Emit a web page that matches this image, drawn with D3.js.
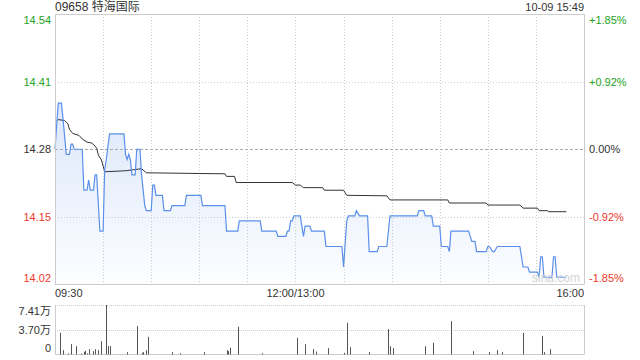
<!DOCTYPE html>
<meta charset="utf-8">
<head>
  <title>09658 特海国际</title>
  <script src="https://d3js.org/d3.v7.min.js"></script>
  <style>
    body { margin: 0; background: #fff; }
    svg { font-family: "Liberation Sans", Arial, sans-serif; }
  </style>
</head>
<body>
  <svg id="chart" width="640" height="360"></svg>
  <script>
    // ---- data ----
    var stockName = "09658 特海国际";
    var stampText = "10-09 15:49";
    var prevClose = 14.28;
    var pctRange = 0.0185;

    var priceTickLabels = ["14.54", "14.41", "14.28", "14.15", "14.02"];
    var pctTickLabels = ["+1.85%", "+0.92%", "0.00%", "-0.92%", "-1.85%"];
    var timeLabels = ["09:30", "12:00/13:00", "16:00"];
    var volTickLabels = ["7.41万", "3.70万", "0"];
    var volMax = 7.41; // 万

    var priceTimes = [
      "09:30","09:32","09:34","09:35","09:37","09:39","09:40","09:41","09:42","09:47",
      "09:48","09:50","09:51","09:52","09:54","09:55","09:56","09:58","10:00","10:01",
      "10:02","10:04","10:13","10:14","10:15","10:16","10:17","10:18","10:20","10:21",
      "10:23","10:24","10:26","10:27","10:30","10:31","10:32","10:33","10:37","10:38",
      "10:42","10:43","10:51","10:52","11:01","11:02","11:16","11:17","11:24","11:25",
      "11:38","11:39","11:48","11:49","11:54","11:55","11:56","11:57","11:58","11:59",
      "12:00","13:03","13:05","13:06","13:09","13:10","13:18","13:19","13:29","13:30",
      "13:32","13:33","13:37","13:38","13:40","13:45","13:46","13:51","13:52","13:57",
      "13:59","14:16","14:17","14:20","14:21","14:25","14:26","14:30","14:31","14:35",
      "14:36","14:37","14:48","14:50","14:52","14:53","14:59","15:00","15:01","15:03",
      "15:04","15:06","15:20","15:22","15:25","15:26","15:31","15:32","15:33","15:34",
      "15:35","15:40","15:41","15:42","15:43","15:49"
    ];
    var priceValues = [
      14.28,14.37,14.37,14.34,14.27,14.27,14.29,14.29,14.28,14.28,
      14.20,14.20,14.22,14.20,14.20,14.23,14.23,14.12,14.12,14.24,
      14.26,14.31,14.31,14.27,14.26,14.27,14.26,14.23,14.23,14.28,
      14.28,14.23,14.17,14.16,14.16,14.21,14.21,14.19,14.19,14.16,
      14.16,14.17,14.17,14.19,14.19,14.17,14.17,14.12,14.12,14.14,
      14.14,14.12,14.12,14.11,14.11,14.12,14.12,14.14,14.14,14.15,
      14.15,14.15,14.11,14.13,14.13,14.12,14.12,14.09,14.09,14.05,
      14.14,14.15,14.15,14.16,14.15,14.15,14.08,14.08,14.09,14.09,
      14.15,14.15,14.16,14.16,14.15,14.15,14.13,14.13,14.09,14.09,
      14.08,14.12,14.12,14.10,14.10,14.08,14.08,14.09,14.09,14.08,
      14.08,14.09,14.09,14.05,14.05,14.04,14.04,14.03,14.07,14.07,
      14.03,14.03,14.07,14.07,14.03,14.03
    ];

    var avgTimes = [
      "09:31","09:32","09:36","09:38","09:39","09:41","09:45","09:47","09:50","09:53",
      "09:55","09:56","09:57","09:59","10:01","10:14","10:24","10:27","11:16","11:17",
      "11:22","11:23","11:58","12:00","13:03","13:05","13:17","13:18","13:30","13:32",
      "13:57","13:59","14:35","14:36","14:59","15:00","15:20","15:22","15:31","15:32",
      "15:37","15:38","15:49"
    ];
    var avgValues = [
      14.335,14.338,14.336,14.330,14.319,14.311,14.307,14.300,14.294,14.292,
      14.286,14.282,14.269,14.259,14.236,14.238,14.242,14.234,14.232,14.227,
      14.227,14.215,14.215,14.210,14.210,14.205,14.205,14.200,14.200,14.190,
      14.189,14.181,14.181,14.175,14.175,14.171,14.171,14.165,14.165,14.160,
      14.160,14.158,14.158
    ];

    var volTimes = [
      "09:33","09:35","09:38","09:40","09:43","09:46","09:48","09:49","09:50","09:51",
      "09:54","09:55","09:57","09:59","10:02","10:03","10:04","10:15","10:21","10:24",
      "10:25","10:27","10:28","10:43","10:48","11:03","11:17","11:18","11:19","11:24",
      "11:39","13:01","13:06","13:11","13:13","13:20","13:30","13:32","13:34","13:46",
      "13:58","13:59","14:01","14:21","14:26","14:37","14:51","15:01","15:06","15:09",
      "15:22","15:34","15:35","15:39"
    ];
    var volValues = [
      3.25,0.65,0.15,1.55,1.25,0.15,0.4,0.55,0.15,0.8,
      0.5,0.8,0.65,2.0,7.41,1.25,1.25,0.35,4.25,0.25,
      0.35,0.65,2.65,0.35,0.2,0.35,0.65,0.5,1.0,4.15,
      0.2,2.5,1.55,0.8,0.45,0.95,0.25,4.75,1.1,0.35,
      3.8,1.25,0.95,1.25,1.75,5.0,0.5,0.35,0.65,0.35,
      3.25,2.8,0.35,0.8
    ];

    // ---- layout ----
    var svg = d3.select("#chart");
    var plotL = 55, plotR = 584, plotT = 14, plotB = 284.5;
    var volT = 305, volB = 354.5;
    var green = "#22a322", red = "#f0392b", dark = "#333";

    // trading minutes since 09:30, lunch break removed
    function tradeMinute(t) {
      var p = t.split(":"), h = +p[0], m = +p[1];
      var mins = h * 60 + m;
      return h >= 13 ? mins - 780 + 150 : mins - 570;
    }

    var x = d3.scaleLinear().domain([0, 330]).range([plotL, plotR]);
    var y = d3.scaleLinear()
      .domain([prevClose * (1 - pctRange), prevClose * (1 + pctRange)])
      .range([plotB, plotT]);
    var yVol = d3.scaleLinear().domain([0, volMax]).range([volB, volT]);

    var priceData = priceTimes.map(function(t, i) { return { m: tradeMinute(t), v: priceValues[i] }; });
    var avgData = avgTimes.map(function(t, i) { return { m: tradeMinute(t), v: avgValues[i] }; });
    var volData = volTimes.map(function(t, i) { return { m: tradeMinute(t), v: volValues[i] }; });

    // gradient for area
    var defs = svg.append("defs");
    var grad = defs.append("linearGradient")
      .attr("id", "areaFill")
      .attr("gradientUnits", "userSpaceOnUse")
      .attr("x1", 0).attr("x2", 0)
      .attr("y1", 100).attr("y2", plotB);
    grad.append("stop").attr("offset", "0%").attr("stop-color", "#dbe7fb");
    grad.append("stop").attr("offset", "100%").attr("stop-color", "#fcfdff");

    // area under price
    svg.append("path")
      .datum(priceData)
      .attr("fill", "url(#areaFill)")
      .attr("d", d3.area()
        .x(function(d) { return x(d.m); })
        .y0(plotB)
        .y1(function(d) { return y(d.v); }));

    // vertical grid (11 columns)
    var colTicks = d3.range(1, 11).map(function(i) { return i * 30; });
    svg.append("g").selectAll("line")
      .data(colTicks)
      .enter().append("line")
        .attr("x1", function(d) { return Math.round(x(d)) + 0.5; })
        .attr("x2", function(d) { return Math.round(x(d)) + 0.5; })
        .attr("y1", plotT).attr("y2", plotB)
        .attr("stroke", "#ccc")
        .attr("stroke-dasharray", "1,2");

    // horizontal grid
    var priceGrid = d3.range(5).map(function(i) {
      return y.domain()[1] - i * (y.domain()[1] - y.domain()[0]) / 4;
    });
    svg.append("g").selectAll("line")
      .data(priceGrid.slice(1, 4))
      .enter().append("line")
        .attr("x1", plotL).attr("x2", plotR)
        .attr("y1", function(d) { return Math.round(y(d)) + 0.5; })
        .attr("y2", function(d) { return Math.round(y(d)) + 0.5; })
        .attr("stroke", function(d, i) { return i == 1 ? "#aaa" : "#ccc"; })
        .attr("stroke-dasharray", function(d, i) { return i == 1 ? "3,2" : "1,2"; });

    // lines
    svg.append("path")
      .datum(avgData)
      .attr("fill", "none")
      .attr("stroke", "#333")
      .attr("stroke-width", 1)
      .attr("d", d3.line()
        .x(function(d) { return x(d.m); })
        .y(function(d) { return y(d.v); }));

    svg.append("path")
      .datum(priceData)
      .attr("fill", "none")
      .attr("stroke", "#5a90ec")
      .attr("stroke-width", 1.2)
      .attr("d", d3.line()
        .x(function(d) { return x(d.m); })
        .y(function(d) { return y(d.v); }));

    // frame
    var frame = svg.append("g").attr("stroke", "#ccc").attr("fill", "none");
    frame.append("line").attr("x1", plotL).attr("x2", plotR).attr("y1", plotT + 0.5).attr("y2", plotT + 0.5);
    frame.append("line").attr("x1", plotL).attr("x2", plotR).attr("y1", plotB).attr("y2", plotB);
    frame.append("line").attr("x1", plotL + 0.5).attr("x2", plotL + 0.5).attr("y1", plotT).attr("y2", plotB);
    frame.append("line").attr("x1", plotR + 0.5).attr("x2", plotR + 0.5).attr("y1", plotT).attr("y2", plotB);

    // watermark
    svg.append("text")
      .attr("x", 532).attr("y", 282)
      .attr("font-size", 12)
      .attr("fill", "#d4d4d4")
      .text("sina.com");

    // title and stamp
    svg.append("text")
      .attr("x", plotL).attr("y", 11)
      .attr("font-size", 12)
      .attr("fill", dark)
      .attr("font-family", "'Liberation Sans', 'Noto Sans CJK SC', sans-serif")
      .text(stockName);
    svg.append("text")
      .attr("x", plotR).attr("y", 11)
      .attr("text-anchor", "end")
      .attr("font-size", 11)
      .attr("fill", dark)
      .text(stampText);

    // price / pct labels
    function labelColor(i) { return i < 2 ? green : (i == 2 ? dark : red); }
    function labelShift(i) { return i == 0 ? 10 : (i == 4 ? -2.5 : 4); }
    svg.append("g").selectAll("text")
      .data(priceTickLabels)
      .enter().append("text")
        .attr("x", plotL - 4)
        .attr("y", function(d, i) { return y(priceGrid[i]) + labelShift(i); })
        .attr("text-anchor", "end")
        .attr("font-size", 11)
        .attr("fill", function(d, i) { return labelColor(i); })
        .text(function(d) { return d; });
    svg.append("g").selectAll("text")
      .data(pctTickLabels)
      .enter().append("text")
        .attr("x", plotR + 5)
        .attr("y", function(d, i) { return y(priceGrid[i]) + labelShift(i); })
        .attr("font-size", 11)
        .attr("fill", function(d, i) { return labelColor(i); })
        .text(function(d) { return d; });

    // time labels
    var timeAnchor = ["start", "middle", "end"];
    var timePos = [0, 150, 330];
    svg.append("g").selectAll("text")
      .data(timeLabels)
      .enter().append("text")
        .attr("x", function(d, i) { return x(timePos[i]); })
        .attr("y", 297)
        .attr("text-anchor", function(d, i) { return timeAnchor[i]; })
        .attr("font-size", 11)
        .attr("fill", dark)
        .text(function(d) { return d; });

    // volume panel
    var volGrid = [volMax, volMax / 2, 0];
    svg.append("g").selectAll("line")
      .data(volGrid.slice(0, 2))
      .enter().append("line")
        .attr("x1", plotL).attr("x2", plotR)
        .attr("y1", function(d) { return Math.round(yVol(d)) + 0.5; })
        .attr("y2", function(d) { return Math.round(yVol(d)) + 0.5; })
        .attr("stroke", "#ccc")
        .attr("stroke-dasharray", "1,1");
    svg.append("line")
      .attr("x1", plotL).attr("x2", plotR)
      .attr("y1", volB).attr("y2", volB)
      .attr("stroke", "#ccc");
    svg.append("line")
      .attr("x1", plotL + 0.5).attr("x2", plotL + 0.5)
      .attr("y1", volT).attr("y2", volB)
      .attr("stroke", "#ccc");
    svg.append("line")
      .attr("x1", plotR + 0.5).attr("x2", plotR + 0.5)
      .attr("y1", volT).attr("y2", volB)
      .attr("stroke", "#ccc");

    svg.append("g").selectAll("line")
      .data(volData)
      .enter().append("line")
        .attr("x1", function(d) { return Math.round(x(d.m)) + 0.5; })
        .attr("x2", function(d) { return Math.round(x(d.m)) + 0.5; })
        .attr("y1", volB)
        .attr("y2", function(d) { return yVol(d.v); })
        .attr("stroke", "#555")
        .attr("stroke-width", 1);

    var volShift = [10, 4, -3];
    svg.append("g").selectAll("text")
      .data(volTickLabels)
      .enter().append("text")
        .attr("x", plotL - 4)
        .attr("y", function(d, i) { return yVol(volGrid[i]) + volShift[i]; })
        .attr("text-anchor", "end")
        .attr("font-size", 11)
        .attr("fill", dark)
        .attr("font-family", "'Liberation Sans', 'Noto Sans CJK SC', sans-serif")
        .text(function(d) { return d; });
  </script>
</body>
</html>
